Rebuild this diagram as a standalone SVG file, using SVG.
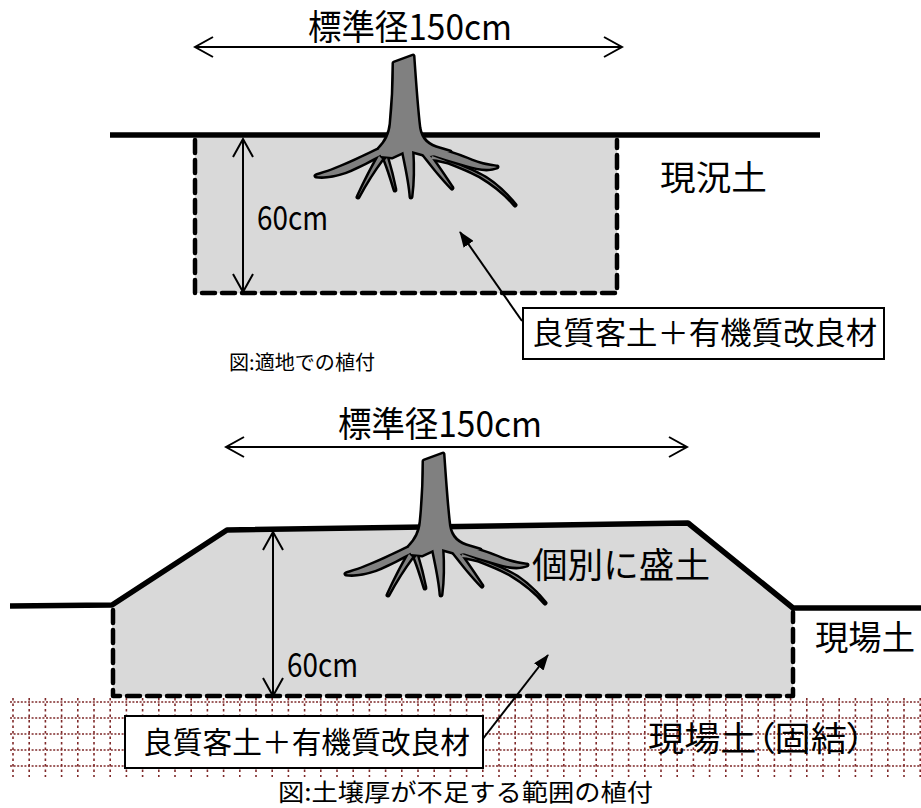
<svg xmlns="http://www.w3.org/2000/svg" xmlns:xlink="http://www.w3.org/1999/xlink" width="921" height="808" viewBox="0 0 921 808">
<style>
  text { font-family: "Noto Sans CJK JP", "Noto Sans", sans-serif; fill: #000; }
  .soil { fill: #d9d9d9; stroke: none; }
  .dash { fill: none; stroke: #000; stroke-width: 4.5; stroke-dasharray: 13 7; stroke-linejoin: round; stroke-linecap: round; }
  .ground { fill: none; stroke: #000; stroke-width: 5.5; stroke-linejoin: round; }
  .dim { fill: none; stroke: #000; stroke-width: 2; marker-start: url(#open); marker-end: url(#open); }
  .ptr { fill: none; stroke: #000; stroke-width: 2; marker-end: url(#filled); }
  .box { fill: #fff; stroke: #000; stroke-width: 2; }
  .gh { stroke: #7f2a2a; stroke-width: 1.6; stroke-dasharray: 2 1.6; }
  .gv { stroke: #7f2a2a; stroke-width: 1.6; stroke-dasharray: 2.5 3; }
  .outline { fill: #000; stroke: #000; stroke-width: 5; stroke-linejoin: round; }
  .wood { fill: #808080; stroke: none; }
  .palt { font-feature-settings: "palt"; }
</style>
<defs>
  <marker id="open" viewBox="0 0 22 24" refX="20" refY="12" markerWidth="22" markerHeight="24" markerUnits="userSpaceOnUse" orient="auto-start-reverse">
    <path d="M2,2 L20,12 L2,22" fill="none" stroke="#000" stroke-width="2"/>
  </marker>
  <marker id="filled" viewBox="0 0 16 12" refX="15" refY="6" markerWidth="16" markerHeight="12" markerUnits="userSpaceOnUse" orient="auto">
    <path d="M0,0 L16,6 L0,12 Z" fill="#000"/>
  </marker>
  <g id="treeShape">
    <path d="M394,63 L413,56 C415,85 417,112 419,128 C421,140 428,146 440,149 L450,152 L430,156 L412,151 L405,151 L392,157 L381,156 L379,149 C386,142 390,134 391,124 C393,104 394,84 394,63 Z"/>
    <path d="M380,149 C365,156 345,166 328,172 C322,174 318,175 316,176 C322,177 333,176 345,172 C360,166 372,159 382,154 Z"/>
    <path d="M379,156 C372,168 364,184 358,197 C365,184 373,171 382,159 Z"/>
    <path d="M385,160 C389,170 392,180 395,190 C393,180 390,168 387,158 Z"/>
    <path d="M403,150 C406,165 410,182 411,197 C413,182 413,165 412,150 Z"/>
    <path d="M421,151 C431,164 442,178 452,188 C444,176 435,162 426,151 Z"/>
    <path d="M428,148 C445,150 460,156 472,161 C482,165 490,166 497,167 C490,170 478,169 466,165 C452,161 440,157 430,154 Z"/>
    <path d="M432,156 C448,162 465,168 480,176 C495,185 507,195 515,205 C505,193 493,181 478,174 C462,166 446,160 431,159 Z"/>
  </g>
  <g id="tree">
    <use xlink:href="#treeShape" class="outline"/>
    <use xlink:href="#treeShape" class="wood"/>
  </g>
</defs>

<g id="top-soil">
  <rect class="soil" x="195" y="138" width="422" height="155"/>
  <path class="dash" d="M195,140 L195,293 L617,293 L617,140"/>
  <line class="ground" x1="110" y1="135" x2="820" y2="135"/>
</g>
<g id="top-tree">
  <use xlink:href="#tree"/>
</g>

<g id="bottom-grid">
  <g class="gh">
    <line x1="10" y1="702" x2="921" y2="702"/>
    <line x1="10" y1="718" x2="921" y2="718"/>
    <line x1="10" y1="734" x2="921" y2="734"/>
    <line x1="10" y1="750" x2="921" y2="750"/>
    <line x1="10" y1="766" x2="921" y2="766"/>
  </g>
  <g class="gv">
    <line x1="13" y1="698" x2="13" y2="777"/><line x1="29.2" y1="698" x2="29.2" y2="777"/><line x1="45.4" y1="698" x2="45.4" y2="777"/><line x1="61.6" y1="698" x2="61.6" y2="777"/><line x1="77.8" y1="698" x2="77.8" y2="777"/><line x1="94" y1="698" x2="94" y2="777"/><line x1="110.2" y1="698" x2="110.2" y2="777"/><line x1="126.4" y1="698" x2="126.4" y2="777"/><line x1="142.6" y1="698" x2="142.6" y2="777"/><line x1="158.8" y1="698" x2="158.8" y2="777"/><line x1="175" y1="698" x2="175" y2="777"/><line x1="191.2" y1="698" x2="191.2" y2="777"/><line x1="207.4" y1="698" x2="207.4" y2="777"/><line x1="223.6" y1="698" x2="223.6" y2="777"/><line x1="239.8" y1="698" x2="239.8" y2="777"/><line x1="256" y1="698" x2="256" y2="777"/><line x1="272.2" y1="698" x2="272.2" y2="777"/><line x1="288.4" y1="698" x2="288.4" y2="777"/><line x1="304.6" y1="698" x2="304.6" y2="777"/><line x1="320.8" y1="698" x2="320.8" y2="777"/><line x1="337" y1="698" x2="337" y2="777"/><line x1="353.2" y1="698" x2="353.2" y2="777"/><line x1="369.4" y1="698" x2="369.4" y2="777"/><line x1="385.6" y1="698" x2="385.6" y2="777"/><line x1="401.8" y1="698" x2="401.8" y2="777"/><line x1="418" y1="698" x2="418" y2="777"/><line x1="434.2" y1="698" x2="434.2" y2="777"/><line x1="450.4" y1="698" x2="450.4" y2="777"/><line x1="466.6" y1="698" x2="466.6" y2="777"/><line x1="482.8" y1="698" x2="482.8" y2="777"/><line x1="499" y1="698" x2="499" y2="777"/><line x1="515.2" y1="698" x2="515.2" y2="777"/><line x1="531.4" y1="698" x2="531.4" y2="777"/><line x1="547.6" y1="698" x2="547.6" y2="777"/><line x1="563.8" y1="698" x2="563.8" y2="777"/><line x1="580" y1="698" x2="580" y2="777"/><line x1="596.2" y1="698" x2="596.2" y2="777"/><line x1="612.4" y1="698" x2="612.4" y2="777"/><line x1="628.6" y1="698" x2="628.6" y2="777"/><line x1="644.8" y1="698" x2="644.8" y2="777"/><line x1="661" y1="698" x2="661" y2="777"/><line x1="677.2" y1="698" x2="677.2" y2="777"/><line x1="693.4" y1="698" x2="693.4" y2="777"/><line x1="709.6" y1="698" x2="709.6" y2="777"/><line x1="725.8" y1="698" x2="725.8" y2="777"/><line x1="742" y1="698" x2="742" y2="777"/><line x1="758.2" y1="698" x2="758.2" y2="777"/><line x1="774.4" y1="698" x2="774.4" y2="777"/><line x1="790.6" y1="698" x2="790.6" y2="777"/><line x1="806.8" y1="698" x2="806.8" y2="777"/><line x1="823" y1="698" x2="823" y2="777"/><line x1="839.2" y1="698" x2="839.2" y2="777"/><line x1="855.4" y1="698" x2="855.4" y2="777"/><line x1="871.6" y1="698" x2="871.6" y2="777"/><line x1="887.8" y1="698" x2="887.8" y2="777"/><line x1="904" y1="698" x2="904" y2="777"/><line x1="920.2" y1="698" x2="920.2" y2="777"/>
  </g>
</g>

<g id="bottom-soil">
  <path class="soil" d="M112,606 L227,531 L688,524 L793,609 L793,696 L113,696 Z"/>
  <path class="dash" d="M113,610 L113,696 L793,696 L793,612"/>
  <path class="ground" d="M10,606 L112,605 L227,530 L688,523 L793,608 L921,608"/>
</g>
<g id="bottom-tree">
  <use xlink:href="#tree" transform="translate(30,398)"/>
</g>

<g id="connectors">
  <line class="dim" x1="195" y1="47" x2="622" y2="47"/>
  <line class="dim" x1="243" y1="139" x2="243" y2="292"/>
  <line class="ptr" x1="522" y1="321" x2="460" y2="232"/>
  <line class="dim" x1="226" y1="447" x2="687" y2="447"/>
  <line class="dim" x1="273" y1="532" x2="273" y2="696"/>
  <line class="ptr" x1="482" y1="740" x2="548" y2="655"/>
</g>

<g id="top-labels">
  <text x="308" y="40" font-size="35" textLength="204" lengthAdjust="spacingAndGlyphs">標準径150cm</text>
  <text x="257" y="230" font-size="33" textLength="71" lengthAdjust="spacingAndGlyphs">60cm</text>
  <text x="660" y="190" font-size="34" textLength="107" lengthAdjust="spacingAndGlyphs">現況土</text>
  <text x="229" y="370" font-size="20" textLength="146" lengthAdjust="spacingAndGlyphs">図:適地での植付</text>
</g>
<g id="top-box">
  <rect class="box" x="523" y="308" width="361" height="51"/>
  <text x="532" y="344" font-size="31" textLength="345" lengthAdjust="spacingAndGlyphs">良質客土＋有機質改良材</text>
</g>

<g id="bottom-labels">
  <text x="338" y="437" font-size="35" textLength="204" lengthAdjust="spacingAndGlyphs">標準径150cm</text>
  <text x="287" y="677" font-size="33" textLength="71" lengthAdjust="spacingAndGlyphs">60cm</text>
  <text x="532" y="578" font-size="35" textLength="178" lengthAdjust="spacingAndGlyphs">個別に盛土</text>
  <text x="815" y="650" font-size="34" textLength="100" lengthAdjust="spacingAndGlyphs">現場土</text>
  <text class="palt" x="648" y="751" font-size="34" textLength="217" lengthAdjust="spacingAndGlyphs">現場土（固結）</text>
  <text x="278" y="801" font-size="24" textLength="375" lengthAdjust="spacingAndGlyphs">図:土壌厚が不足する範囲の植付</text>
</g>
<g id="bottom-box">
  <rect class="box" x="125" y="716" width="358" height="52"/>
  <text x="143" y="753" font-size="30" textLength="327" lengthAdjust="spacingAndGlyphs">良質客土＋有機質改良材</text>
</g>
</svg>
